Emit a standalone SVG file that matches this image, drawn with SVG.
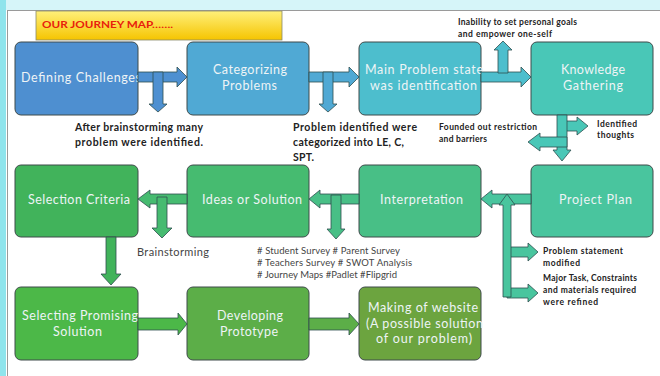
<svg xmlns="http://www.w3.org/2000/svg" width="660" height="376" viewBox="0 0 660 376">
<defs>
<linearGradient id="gy" x1="0" y1="0" x2="0" y2="1">
<stop offset="0" stop-color="#fff07a"/><stop offset="1" stop-color="#f5c400"/>
</linearGradient>
<style>
.node{stroke:#3e4a4a;stroke-width:1}
.nt{font-family:Lato,"Liberation Sans",sans-serif;font-size:12.5px;fill:#eef4f6}
.cap{font-family:Lato,"Liberation Sans",sans-serif;font-size:10.5px;font-weight:bold;fill:#222}
.sm{font-family:Lato,"Liberation Sans",sans-serif;font-size:8.5px;font-weight:bold;fill:#222}
.gr{font-family:Lato,"Liberation Sans",sans-serif;font-size:9.5px;fill:#444}
.arr{stroke:#2f4f4f;stroke-width:0.8}
</style>
</defs>
<rect x="0" y="0" width="660" height="376" fill="#ffffff"/>
<rect x="0" y="0" width="660" height="10" fill="#d6f5f9"/>
<rect x="0" y="0" width="6" height="376" fill="#8fe4ec"/>
<line x1="7" y1="10.5" x2="660" y2="10.5" stroke="#9a9a9a" stroke-width="1"/>
<line x1="7.5" y1="10" x2="7.5" y2="376" stroke="#9a9a9a" stroke-width="1"/>

<g id="title">
<rect x="36" y="11" width="246" height="29" fill="url(#gy)" stroke="#8a8a6a" stroke-width="0.8"/>
<text x="42" y="28" font-family="Lato,'Liberation Sans',sans-serif" font-size="10" font-weight="bold" fill="#e8200c" textLength="131" lengthAdjust="spacingAndGlyphs">OUR JOURNEY MAP…….</text>
</g>

<g id="n1"><rect class="node" x="15" y="42" width="123" height="73" rx="6" fill="#4e8fd0"/><text class="nt" x="21" y="82" textLength="120">Defining Challenges</text></g>
<g id="n2"><rect class="node" x="187" y="42" width="122" height="73" rx="6" fill="#50a9d4"/><text class="nt" x="213" y="74" textLength="74">Categorizing</text><text class="nt" x="222" y="90" textLength="55">Problems</text></g>
<g id="n3"><rect class="node" x="359" y="42" width="122" height="73" rx="6" fill="#4dbecd"/><text class="nt" x="365" y="74" textLength="118">Main Problem state</text><text class="nt" x="370" y="90" textLength="107">was identification</text></g>
<g id="n4"><rect class="node" x="531" y="42" width="122" height="73" rx="6" fill="#49c7b7"/><text class="nt" x="561" y="74" textLength="64">Knowledge</text><text class="nt" x="563" y="90" textLength="60">Gathering</text></g>

<g id="n5"><rect class="node" x="15" y="165" width="123" height="72" rx="6" fill="#41b35b"/><text class="nt" x="28" y="204" textLength="102">Selection Criteria</text></g>
<g id="n6"><rect class="node" x="187" y="165" width="122" height="72" rx="6" fill="#46bb70"/><text class="nt" x="202" y="204" textLength="100">Ideas or Solution</text></g>
<g id="n7"><rect class="node" x="359" y="165" width="122" height="72" rx="6" fill="#48bf86"/><text class="nt" x="380" y="204" textLength="83">Interpretation</text></g>
<g id="n8"><rect class="node" x="531" y="165" width="122" height="72" rx="6" fill="#49c59e"/><text class="nt" x="559" y="204" textLength="73">Project Plan</text></g>

<g id="n9"><rect class="node" x="15" y="287" width="123" height="73" rx="6" fill="#4cb848"/><text class="nt" x="22" y="320" textLength="116">Selecting Promising</text><text class="nt" x="53" y="336" textLength="49">Solution</text></g>
<g id="n10"><rect class="node" x="187" y="287" width="122" height="73" rx="6" fill="#5cae48"/><text class="nt" x="217" y="320" textLength="66">Developing</text><text class="nt" x="220" y="336" textLength="58">Prototype</text></g>
<g id="n11"><rect class="node" x="359" y="287" width="122" height="73" rx="6" fill="#6ca43f"/><text class="nt" x="368" y="312" textLength="110">Making of website</text><text class="nt" x="366" y="328" textLength="117">(A possible solution</text><text class="nt" x="376" y="343" textLength="96">of our problem)</text></g>

<g id="connectors">
<polygon class="arr" fill="#4e90d1" points="138,72 177,72 177,67 187,77 177,87 177,82 138,82"/>
<polygon class="arr" fill="#4e90d1" points="153,72 163,72 163,104 167,104 158,112 149,104 153,104"/>
<polygon class="arr" fill="#50a9d4" points="309,72 349,72 349,67 359,77 349,87 349,82 309,82"/>
<polygon class="arr" fill="#50a9d4" points="323,72 333,72 333,104 337,104 328,112 319,104 323,104"/>
<polygon class="arr" fill="#4dbecd" points="481,72 521,72 521,67 531,77 521,87 521,82 481,82"/>
<polygon class="arr" fill="#4dbecd" points="498,73 498,50 494,50 503,41 512,50 508,50 508,73"/>
<polygon class="arr" fill="#49c7b7" points="562,121 577,121 577,117 588,126 577,135 577,131 562,131"/>
<polygon class="arr" fill="#49c7b7" points="557,115 567,115 567,150 571,150 562,161 553,150 557,150"/>
<polygon class="arr" fill="#49c7b7" points="567,137 540,137 540,133 528,142 540,151 540,147 567,147"/>

<polygon class="arr" fill="#49c59e" points="531,194 492,194 492,190 481,199 492,208 492,204 531,204"/>
<polygon class="arr" fill="#49c59e" points="507,247 528,247 528,243 538,252 528,261 528,257 507,257"/>
<polygon class="arr" fill="#49c59e" points="507,288 528,288 528,284 538,293 528,302 528,298 507,298"/>
<polygon class="arr" fill="#49c59e" points="503,297 503,205 499,205 507,194 515,205 511,205 511,297"/>
<polygon class="arr" fill="#48bf86" points="359,194 320,194 320,190 309,199 320,208 320,204 359,204"/>
<polygon class="arr" fill="#48bf86" points="331,195 341,195 341,229 345,229 336,239 327,229 331,229"/>
<polygon class="arr" fill="#46bb70" points="187,194 150,194 150,190 138,199 150,208 150,204 187,204"/>
<polygon class="arr" fill="#46bb70" points="157,197 167,197 167,228 172,228 162,238 152,228 157,228"/>
<polygon class="arr" fill="#41b35b" points="106,237 116,237 116,274 121,274 111,285 101,274 106,274"/>

<polygon class="arr" fill="#4cb848" points="138,318 178,318 178,313 187,324 178,335 178,330 138,330"/>
<polygon class="arr" fill="#5cae48" points="309,318 349,318 349,313 359,324 349,335 349,330 309,330"/>
</g>

<g id="labels">
<text class="cap" x="75" y="131" textLength="128">After brainstorming many</text>
<text class="cap" x="75" y="146" textLength="128">problem were identified.</text>
<text class="cap" x="293" y="131" textLength="124">Problem identified were</text>
<text class="cap" x="293" y="146" textLength="111">categorized into LE, C,</text>
<text class="cap" x="293" y="161" textLength="21">SPT.</text>
<text class="sm" x="458" y="25" textLength="119">Inability to set personal goals</text>
<text class="sm" x="458" y="37" textLength="94">and empower one-self</text>
<text class="sm" x="439" y="130" textLength="98">Founded out restriction</text>
<text class="sm" x="439" y="142" textLength="48">and barriers</text>
<text class="sm" x="597" y="127" textLength="40">Identified</text>
<text class="sm" x="597" y="138" textLength="37">thoughts</text>
<text class="gr" x="137" y="256" style="font-size:11px" textLength="72">Brainstorming</text>
<text class="gr" x="257" y="254" textLength="143">#&#160;Student Survey # Parent Survey</text>
<text class="gr" x="257" y="266" textLength="155">#&#160;Teachers Survey # SWOT Analysis</text>
<text class="gr" x="257" y="278" textLength="140">#&#160;Journey Maps #Padlet #Flipgrid</text>
<text class="sm" x="543" y="254" textLength="80">Problem statement</text>
<text class="sm" x="543" y="266" textLength="37">modified</text>
<text class="sm" x="543" y="281" textLength="94">Major Task, Constraints</text>
<text class="sm" x="543" y="293" textLength="93">and materials required</text>
<text class="sm" x="543" y="305" textLength="55">were refined</text>
</g>
</svg>
